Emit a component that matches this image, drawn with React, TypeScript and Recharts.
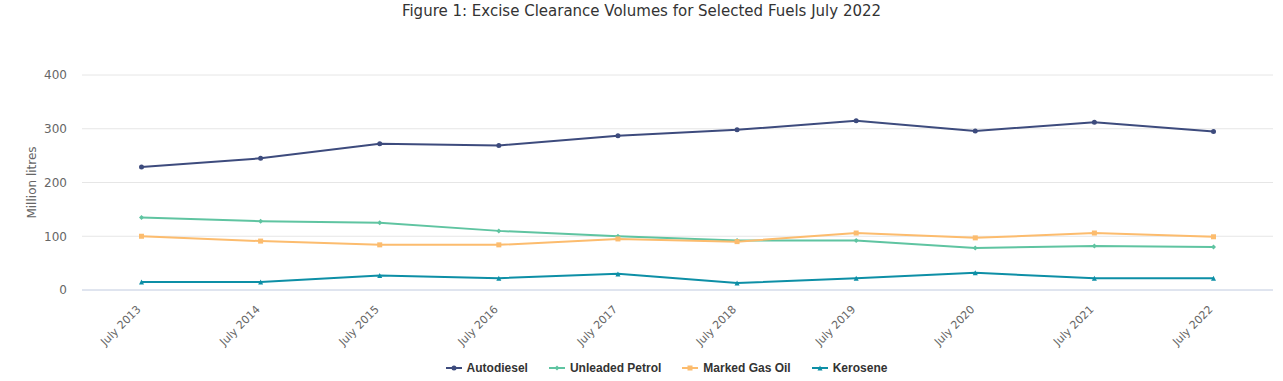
import React from 'react';
import { LineChart, Line, XAxis, YAxis, CartesianGrid } from 'recharts';

// Excise clearance volumes, million litres, July of each year
const years = ['July 2013', 'July 2014', 'July 2015', 'July 2016', 'July 2017', 'July 2018', 'July 2019', 'July 2020', 'July 2021', 'July 2022'];
const autodiesel = [229, 245, 272, 269, 287, 298, 315, 296, 312, 295];
const unleadedPetrol = [135, 128, 125, 110, 100, 92, 92, 78, 82, 80];
const markedGasOil = [100, 91, 84, 84, 95, 90, 106, 97, 106, 99];
const kerosene = [15, 15, 27, 22, 30, 13, 22, 32, 22, 22];
const yTicks = [0, 100, 200, 300, 400];

const data = years.map((year, i) => ({
  year,
  autodiesel: autodiesel[i],
  unleaded: unleadedPetrol[i],
  mgo: markedGasOil[i],
  kerosene: kerosene[i],
}));

type Shape = 'circle' | 'diamond' | 'square' | 'triangle';

const SERIES: { key: string; name: string; colour: string; shape: Shape }[] = [
  { key: 'autodiesel', name: 'Autodiesel', colour: '#3d4b7d', shape: 'circle' },
  { key: 'unleaded', name: 'Unleaded Petrol', colour: '#5fc4a1', shape: 'diamond' },
  { key: 'mgo', name: 'Marked Gas Oil', colour: '#fcbc6e', shape: 'square' },
  { key: 'kerosene', name: 'Kerosene', colour: '#0d8fa6', shape: 'triangle' },
];

const FONT = '"DejaVu Sans", sans-serif';

function Marker({ cx, cy, shape, colour }: { cx: number; cy: number; shape: Shape; colour: string }) {
  const r = 2.5;
  if (shape === 'circle') return <circle cx={cx} cy={cy} r={r} fill={colour} />;
  if (shape === 'square') return <rect x={cx - r} y={cy - r} width={r * 2} height={r * 2} fill={colour} />;
  if (shape === 'diamond')
    return <path d={`M${cx},${cy - r} L${cx + r},${cy} L${cx},${cy + r} L${cx - r},${cy} Z`} fill={colour} />;
  return <path d={`M${cx},${cy - r} L${cx + r},${cy + r} L${cx - r},${cy + r} Z`} fill={colour} />;
}

function makeDot(shape: Shape, colour: string) {
  return (props: any) => {
    const { cx, cy, index } = props;
    if (cx == null || cy == null) return <g key={index} />;
    return <Marker key={index} cx={cx} cy={cy} shape={shape} colour={colour} />;
  };
}

function XTick({ x, y, payload }: any) {
  return (
    <text
      x={x}
      y={y + 12}
      transform={`rotate(-45, ${x}, ${y + 12})`}
      textAnchor="end"
      fontSize={11}
      fill="#666666"
      fontFamily={FONT}
    >
      {payload.value}
    </text>
  );
}

export default function App() {
  return (
    <div style={{ position: 'absolute', left: 0, top: 0, width: 1283, height: 381, background: '#fff', fontFamily: FONT }}>
      <div style={{ position: 'absolute', top: 2, left: 0, width: 1283, textAlign: 'center', fontSize: 15, color: '#333333' }}>
        Figure 1: Excise Clearance Volumes for Selected Fuels July 2022
      </div>

      <LineChart width={1283} height={381} data={data} margin={{ top: 75, right: 10, bottom: 0, left: 0 }}>
        <CartesianGrid vertical={false} stroke="#e6e6e6" />
        <XAxis
          dataKey="year"
          height={91}
          padding={{ left: 59.5, right: 59.5 }}
          stroke="#ccd6eb"
          tickLine={false}
          interval={0}
          tick={<XTick />}
        />
        <YAxis
          width={82}
          domain={[0, 400]}
          ticks={yTicks}
          axisLine={false}
          tickLine={false}
          tickSize={0}
          tickMargin={15}
          tick={{ fontSize: 12, fill: '#666666', fontFamily: FONT }}
          label={{ value: 'Million litres', angle: -90, position: 'insideLeft', offset: 32, fontSize: 12, fill: '#666666', fontFamily: FONT, style: { textAnchor: 'middle' } }}
        />
        {SERIES.map(s => (
          <Line
            key={s.key}
            dataKey={s.key}
            name={s.name}
            type="linear"
            stroke={s.colour}
            strokeWidth={2}
            dot={makeDot(s.shape, s.colour)}
            activeDot={false}
            isAnimationActive={false}
          />
        ))}
      </LineChart>

      {/* Legend */}
      <div style={{ position: 'absolute', top: 361, left: 25, width: 1283, display: 'flex', justifyContent: 'center', gap: 21, fontSize: 12, fontWeight: 'bold', color: '#333333', fontFamily: '"Liberation Sans", Arial, sans-serif' }}>
        {SERIES.map(s => (
          <div key={s.key} style={{ display: 'flex', alignItems: 'center' }}>
            <svg width={16} height={12} style={{ marginRight: 5 }}>
              <line x1={0} y1={6} x2={16} y2={6} stroke={s.colour} strokeWidth={2} />
              <Marker cx={8} cy={6} shape={s.shape} colour={s.colour} />
            </svg>
            <span>{s.name}</span>
          </div>
        ))}
      </div>
    </div>
  );
}
